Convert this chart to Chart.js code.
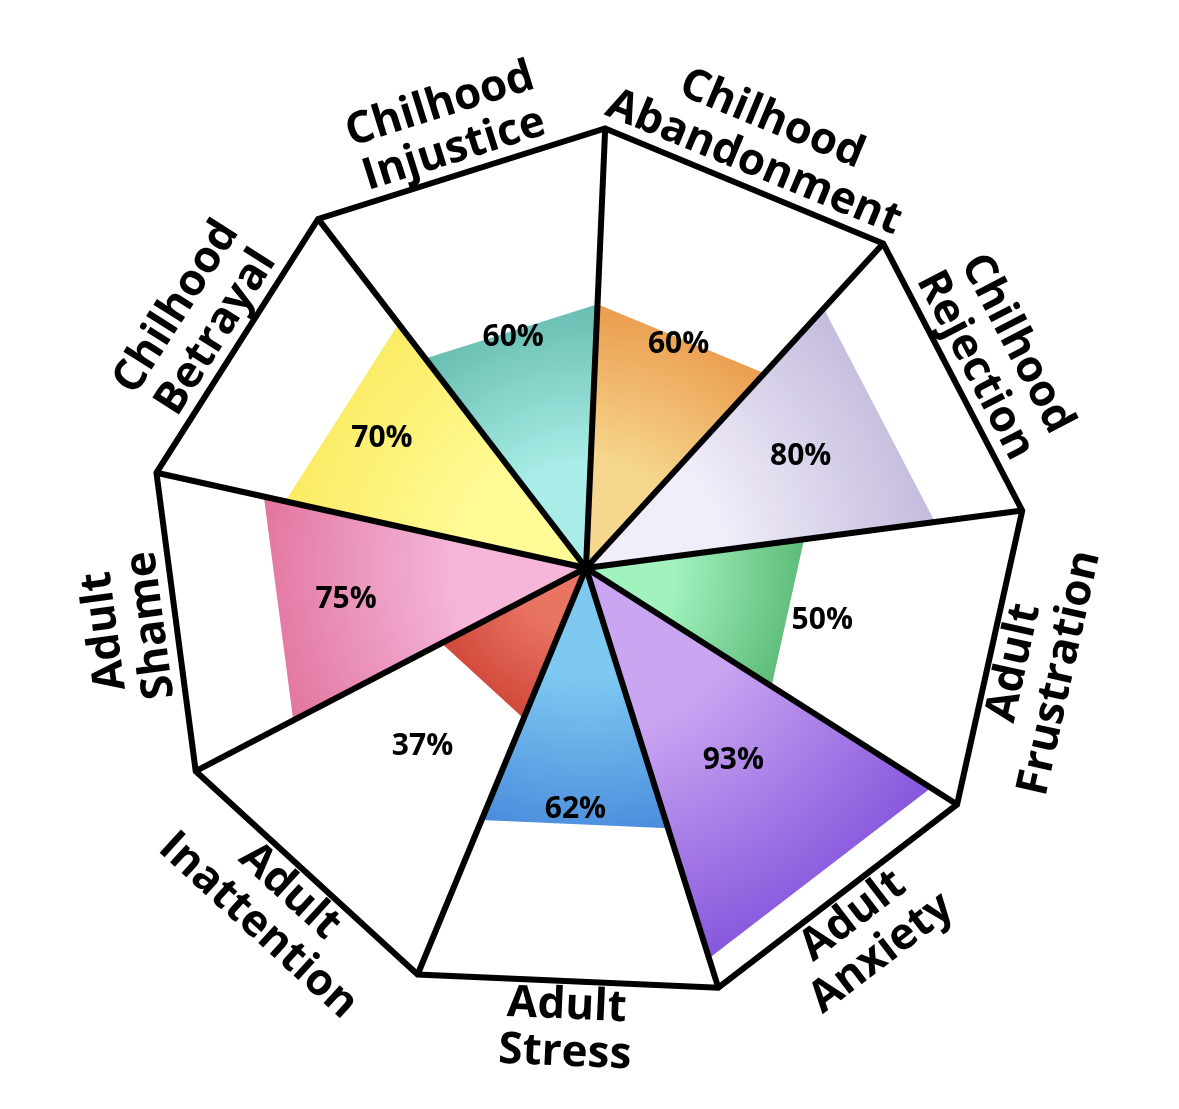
<!DOCTYPE html>
<html>
<head>
<meta charset="utf-8">
<script src="https://cdn.jsdelivr.net/npm/chart.js@4.4.1/dist/chart.umd.min.js"></script>
<style>
  html, body { margin: 0; padding: 0; background: #ffffff; }
</style>
</head>
<body>
<canvas id="wheel" width="1179" height="1109"></canvas>
<script>
// one wedge per category, clockwise from the top
const categories = [
  ['Chilhood', 'Abandonment'],
  ['Chilhood', 'Rejection'],
  ['Adult', 'Frustration'],
  ['Adult', 'Anxiety'],
  ['Adult', 'Stress'],
  ['Adult', 'Inattention'],
  ['Adult', 'Shame'],
  ['Chilhood', 'Betrayal'],
  ['Chilhood', 'Injustice']
];
const scores = [60, 80, 50, 93, 62, 37, 75, 70, 60];
const innerColors = ['#f6d78e', '#f1edf9', '#a2f2be', '#caa6f2', '#7ec9f1', '#e97462', '#f5b6da', '#fffb96', '#a8ede7'];
const outerColors = ['#eb9c4e', '#c4bbdd', '#5cbb78', '#8656dc', '#4a8cdc', '#d0483a', '#e2759f', '#faeb62', '#68bdb1'];

function wedgeFill(i) {
  return function(ctx) {
    const chart = ctx.chart;
    const r = chart.scales.r;
    if (!r || !chart.chartArea) return outerColors[i];
    const reach = r.getDistanceFromCenterForValue(scores[i]);
    const g = chart.ctx.createRadialGradient(r.xCenter, r.yCenter, 0, r.xCenter, r.yCenter, reach);
    g.addColorStop(0, innerColors[i]);
    g.addColorStop(0.4, innerColors[i]);
    g.addColorStop(1, outerColors[i]);
    return g;
  };
}

const datasets = scores.map(function(v, i) {
  return {
    label: categories[i].join(' '),
    data: scores.map(function(_, j) {
      return (j === i || j === (i + 1) % scores.length) ? v : 0;
    }),
    backgroundColor: wedgeFill(i),
    borderWidth: 0,
    pointRadius: 0,
    fill: 'origin'
  };
});

// category names outside the rim and the values inside each wedge
const wheelLabels = {
  id: 'wheelLabels',
  afterDraw(chart) {
    const r = chart.scales.r;
    const c = chart.ctx;
    c.save();
    c.fillStyle = '#000';
    c.textAlign = 'center';
    c.textBaseline = 'middle';
    categories.forEach(function(lines, i) {
      let rot = r.getIndexAngle(i + 0.5);
      if (rot > Math.PI) rot -= 2 * Math.PI;
      if (rot > Math.PI / 2) rot -= Math.PI;
      if (rot < -100 * Math.PI / 180) rot += Math.PI;
      const p = r.getPointPosition(i + 0.5, r.drawingArea * 1.05);
      c.save();
      c.translate(p.x, p.y);
      c.rotate(rot);
      c.font = 'bold 44px "Open Sans"';
      lines.forEach(function(t, k) {
        c.fillText(t, 0, (k - (lines.length - 1) / 2) * 47);
      });
      c.restore();

      const q = r.getPointPosition(i + 0.5, r.getDistanceFromCenterForValue(55));
      c.font = 'bold 30px "Open Sans"';
      c.fillText(scores[i] + '%', q.x, q.y);
    });
    c.restore();
  }
};

new Chart(document.getElementById('wheel'), {
  type: 'radar',
  data: {
    labels: categories.map(function(l) { return l.join(' '); }),
    datasets: datasets
  },
  options: {
    responsive: false,
    animation: false,
    layout: { padding: { left: 146, right: 153, top: 128, bottom: 101 } },
    plugins: { legend: { display: false }, tooltip: { enabled: false } },
    elements: { line: { tension: 0 } },
    scales: {
      r: {
        min: 0,
        max: 100,
        startAngle: 2.5,
        ticks: { display: false, stepSize: 100, z: 1 },
        grid: { color: '#000', lineWidth: 6, z: 1 },
        angleLines: { color: '#000', lineWidth: 6 },
        pointLabels: { display: false }
      }
    }
  },
  plugins: [wheelLabels]
});
</script>
</body>
</html>
